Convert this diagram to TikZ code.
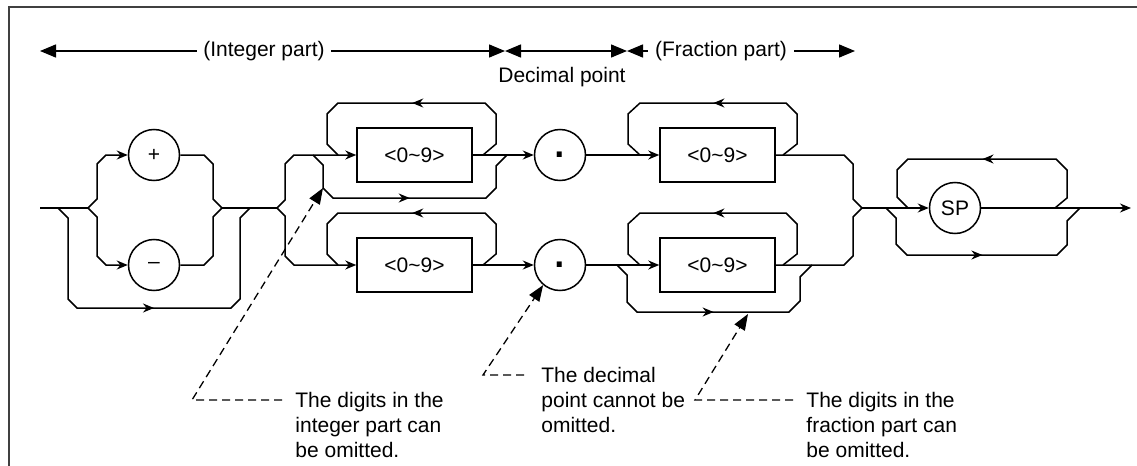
\documentclass[tikz,border=0pt]{standalone}
\usepackage{fontspec}
\setmainfont{Liberation Sans}
\usetikzlibrary{arrows.meta,decorations.markings}

\begin{document}
\begin{tikzpicture}[x=0.5pt,y=-0.5pt,line width=0.75pt,
		every node/.style={font=\fontsize{10.5}{12.5}\selectfont},
		>={Stealth[length=5.5pt,width=4.5pt]},
		term/.style={draw,circle,minimum size=25.5pt,inner sep=0pt},
		digits/.style={draw,rectangle,minimum width=57.5pt,minimum height=27pt,inner sep=0pt},
		flow/.style={postaction={decorate},decoration={markings,mark=at position #1 with {\arrow{>}}}},
		flow/.default=0.5,
		dim/.style={arrows={Triangle[length=8pt,width=6.5pt]-Triangle[length=8pt,width=6.5pt]}},
		note/.style={line width=0.65pt,dash pattern=on 4pt off 2.5pt,-{Triangle[length=8pt,width=6pt]}}]
		\useasboundingbox (0,0) rectangle (1137,466);
		\draw[line width=0.8pt,black!75] (9,466) -- (9,7) -- (1137,7);

		% parts of the number
		\coordinate (dimL) at (40,51);
		\coordinate (dimA) at (505,51);
		\coordinate (dimB) at (627,51);
		\coordinate (dimR) at (855,51);
		\draw[dim] (dimL) -- (dimA);
		\draw[dim] (dimA) -- (dimB);
		\draw[dim] (dimB) -- (dimR);
		\node[fill=white] (intlabel) at (264,51) {(Integer part)};
		\node[fill=white] (fraclabel) at (721,51) {(Fraction part)};
		\node (declabel) at (562,77) {Decimal point};

		\node[term] (plus) at (154,155) {+};
		\node[term] (minus) at (154,265) {–};
		\node[digits] (ibox1) at (414.5,155) {<0\textasciitilde 9>};
		\node[digits] (ibox2) at (414.5,265) {<0\textasciitilde 9>};
		\node[term] (dot1) at (560,155) {\fontsize{26}{26}\selectfont .};
		\node[term] (dot2) at (560,265) {\fontsize{26}{26}\selectfont .};
		\node[digits] (fbox1) at (717.5,155) {<0\textasciitilde 9>};
		\node[digits] (fbox2) at (717.5,265) {<0\textasciitilde 9>};
		\node[term] (sp) at (955,208) {SP};

		\coordinate (start) at (40,208);
		\coordinate (sgnsplit) at (88,208);
		\coordinate (sgnjoin) at (222,208);
		\coordinate (intsplit) at (277,208);
		\coordinate (fracjoin) at (862,208);
		\coordinate (end) at (1131,208);

		% sign
		\draw (start) -- (sgnsplit);
		\draw[->] (sgnsplit) -- (97,199) -- (97,164) -- (106,155) -- (plus);
		\draw[->] (sgnsplit) -- (97,217) -- (97,256) -- (106,265) -- (minus);
		\draw (plus) -- (204,155) -- (213,164) -- (213,199) -- (sgnjoin);
		\draw (minus) -- (204,265) -- (213,256) -- (213,217) -- (sgnjoin);
		\draw[flow] (58,208) -- (68,218) -- (68,299) -- (77,308) -- (231,308) -- (240,299) -- (240,218) -- (250,208);
		\draw (sgnjoin) -- (intsplit);

		% integer part
		\draw[->] (intsplit) -- (285,200) -- (285,164) -- (294,155) -- (ibox1);
		\draw[->] (intsplit) -- (285,216) -- (285,256) -- (294,265) -- (ibox2);
		\draw[flow] (483,155) -- (496,144) -- (496,114) -- (485,103) -- (338,103) -- (327,114) -- (327,144) -- (338,155);
		\draw[flow] (483,265) -- (496,254) -- (496,224) -- (485,213) -- (338,213) -- (327,224) -- (327,254) -- (338,265);
		\draw[flow] (313,155) -- (323,165) -- (323,188) -- (333,198) -- (486,198) -- (496,188) -- (496,166) -- (507,155);
		\draw[->] (ibox1) -- (dot1);
		\draw[->] (ibox2) -- (dot2);

		% fraction part
		\draw[->] (dot1) -- (fbox1);
		\draw[->] (dot2) -- (fbox2);
		\draw[flow] (783,155) -- (797,144) -- (797,114) -- (786,103) -- (640,103) -- (628,114) -- (628,144) -- (640,155);
		\draw[flow] (783,265) -- (797,254) -- (797,224) -- (786,213) -- (640,213) -- (628,224) -- (628,254) -- (640,265);
		\draw[flow] (617,265) -- (627,275) -- (627,302) -- (637,312) -- (789,312) -- (800,301) -- (800,277) -- (812,265);
		\draw (fbox1) -- (844,155) -- (853,164) -- (853,199) -- (fracjoin);
		\draw (fbox2) -- (844,265) -- (853,256) -- (853,217) -- (fracjoin);

		% spaces
		\draw[->] (fracjoin) -- (sp);
		\draw[->] (sp) -- (end);
		\draw[flow] (1055,208) -- (1067,198) -- (1067,170) -- (1056,159) -- (908,159) -- (897,170) -- (897,197) -- (908,208);
		\draw[flow] (886,208) -- (896,218) -- (896,244) -- (907,255) -- (1057,255) -- (1067,245) -- (1067,221) -- (1080,208);

		% notes
		\coordinate (intskip) at (323,188);
		\coordinate (fracskip) at (748,314);
		\node[anchor=west,align=left] (intnote) at (288,425) {The digits in the\\integer part can\\be omitted.};
		\node[anchor=west,align=left] (pointnote) at (534,400) {The decimal\\point cannot be\\omitted.};
		\node[anchor=west,align=left] (fracnote) at (799,425) {The digits in the\\fraction part can\\be omitted.};
		\draw[note] (intnote.west) ++(-6,-25) -- (192,400) -- (intskip);
		\draw[note] (pointnote.west) ++(-10,-25) -- (483,375) -- (dot2.230);
		\draw[note] (fracnote.west) ++(-6,-25) -- (695,400) -- (fracskip);
	\end{tikzpicture}
\end{document}
